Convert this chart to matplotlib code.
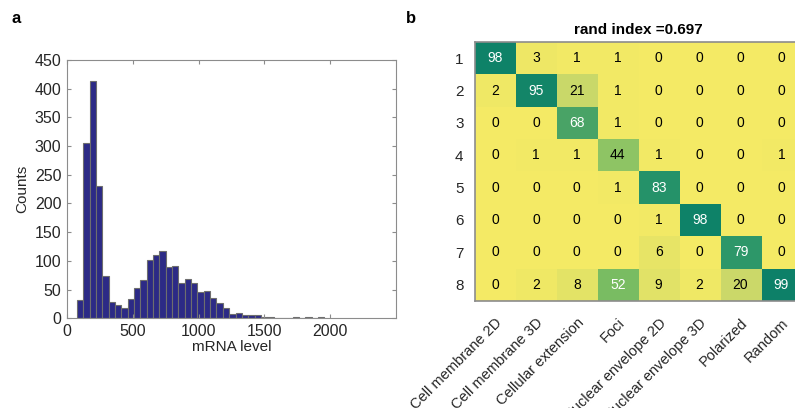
import numpy as np
import matplotlib
matplotlib.use('Agg')
import matplotlib.pyplot as plt
from matplotlib.colors import LinearSegmentedColormap

plt.rcParams['font.family'] = ['Liberation Sans', 'DejaVu Sans']

# histogram of mRNA levels (counts per bin)
bin_start = 75.0
bin_width = 48.2
counts = [32, 306, 413, 231, 74, 28, 24, 18, 33, 52,
          67, 101, 110, 118, 90, 91, 61, 69, 62, 45,
          48, 36, 27, 18, 8, 10, 6, 6, 5, 3,
          2, 0, 1, 1, 2, 0, 2, 0, 2]

# cluster confusion matrix
row_labels = ['1', '2', '3', '4', '5', '6', '7', '8']
col_labels = ['Cell membrane 2D', 'Cell membrane 3D', 'Cellular extension', 'Foci',
              'Nuclear envelope 2D', 'Nuclear envelope 3D', 'Polarized', 'Random']
conf = [[98, 3, 1, 1, 0, 0, 0, 0],
        [2, 95, 21, 1, 0, 0, 0, 0],
        [0, 0, 68, 1, 0, 0, 0, 0],
        [0, 1, 1, 44, 1, 0, 0, 1],
        [0, 0, 0, 1, 83, 0, 0, 0],
        [0, 0, 0, 0, 1, 98, 0, 0],
        [0, 0, 0, 0, 6, 0, 79, 0],
        [0, 2, 8, 52, 9, 2, 20, 99]]
rand_index = 0.697

txt = '#262626'
frame = '#8c8c8c'

fig = plt.figure(figsize=(7.95, 4.08), dpi=100)

# ---- panel a
ax = fig.add_axes([0.0843, 0.2199, 0.414, 0.633])
edges = bin_start + bin_width * np.arange(len(counts))
ax.bar(edges, counts, width=bin_width, align='edge', color='#2c2a86',
       edgecolor='#6e6e6e', linewidth=0.8)
ax.set_xlim(0, 2500)
ax.set_ylim(0, 450)
ax.set_xticks([0, 500, 1000, 1500, 2000])
ax.set_yticks(np.arange(0, 451, 50))
ax.tick_params(direction='in', length=3, color=frame, labelcolor=txt,
               labelsize=11.5, top=True, right=True, pad=4)
for s in ax.spines.values():
    s.set_color(frame)
ax.set_xlabel('mRNA level', fontsize=11, color=txt, labelpad=1)
ax.set_ylabel('Counts', fontsize=11, color=txt, labelpad=4)
fig.text(0.015, 0.955, 'a', fontsize=12, fontweight='bold', va='center')

# ---- panel b
cmap = LinearSegmentedColormap.from_list(
    'yg', [(0.0, '#f4ea65'), (0.21, '#c9d86a'), (0.52, '#7abd62'),
           (0.68, '#4aa466'), (0.82, '#27946a'), (1.0, '#0c8068')])
bx = fig.add_axes([0.597, 0.263, 0.4116, 0.634])
mat = np.array(conf)
bx.imshow(mat, cmap=cmap, vmin=0, vmax=100, aspect='auto')
for i in range(mat.shape[0]):
    for j in range(mat.shape[1]):
        v = mat[i, j]
        bx.text(j, i, str(v), ha='center', va='center', fontsize=10,
                color='white' if v > 50 else 'black')
bx.set_xticks(range(len(col_labels)))
bx.set_xticklabels(col_labels, rotation=45, ha='right', rotation_mode='anchor')
bx.set_yticks(range(len(row_labels)))
bx.set_yticklabels(row_labels)
bx.tick_params(axis='y', length=0, labelsize=11, labelcolor=txt, pad=8)
bx.tick_params(axis='x', length=0, labelsize=10.5, labelcolor=txt, pad=11)
for s in bx.spines.values():
    s.set_color(frame)
    s.set_linewidth(1.2)
bx.set_title('rand index =%.3f' % rand_index, fontsize=11, fontweight='bold', pad=6)
fig.text(0.51, 0.955, 'b', fontsize=12, fontweight='bold', va='center')

fig.savefig('out.png', dpi=100)
